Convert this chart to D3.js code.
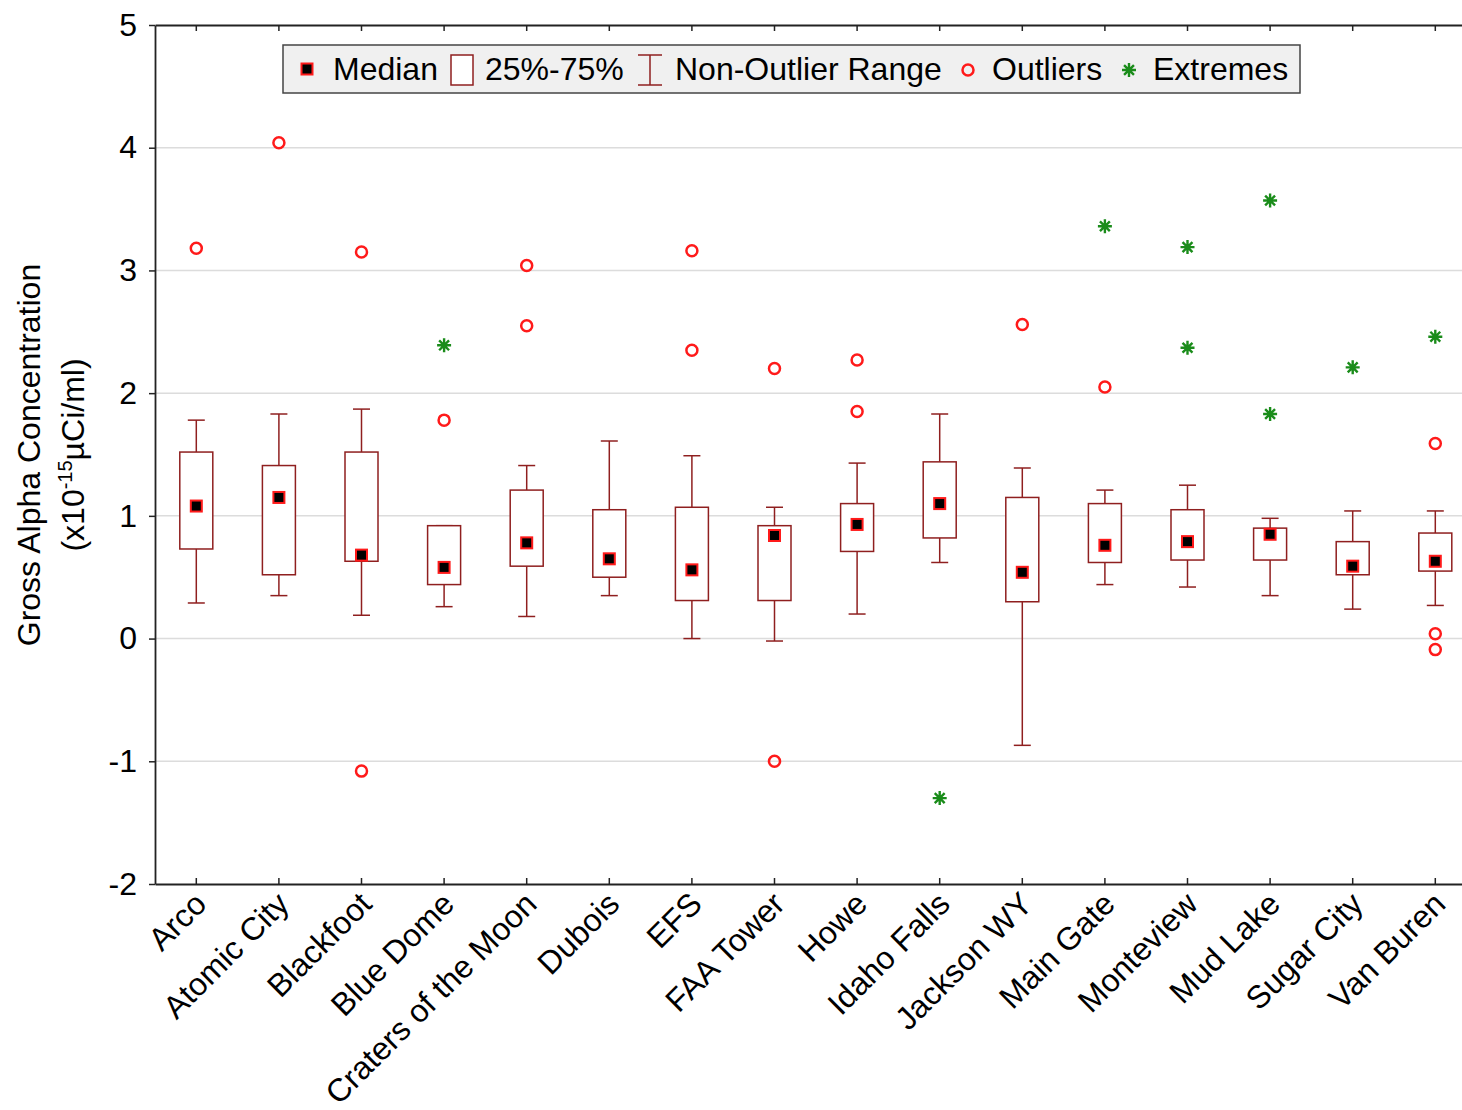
<!DOCTYPE html>
<html><head><meta charset="utf-8">
<script src="https://cdn.jsdelivr.net/npm/d3@7"></script>
<style>body{margin:0;background:#fff}svg{display:block;font-family:"Liberation Sans",Arial,sans-serif}</style>
</head><body><svg id="c" width="1462" height="1110"></svg>
<script>
const categories = ["Arco","Atomic City","Blackfoot","Blue Dome","Craters of the Moon","Dubois","EFS","FAA Tower","Howe","Idaho Falls","Jackson WY","Main Gate","Monteview","Mud Lake","Sugar City","Van Buren"];
const whiskerLow  = [0.29,0.35,0.19,0.26,0.18,0.35,0.00,-0.02,0.20,0.62,-0.87,0.44,0.42,0.35,0.24,0.27];
const q1          = [0.73,0.52,0.63,0.44,0.59,0.50,0.31,0.31,0.71,0.82,0.30,0.62,0.64,0.64,0.52,0.55];
const medians     = [1.08,1.15,0.68,0.58,0.78,0.65,0.56,0.84,0.93,1.10,0.54,0.76,0.79,0.85,0.59,0.63];
const q3          = [1.52,1.41,1.52,0.92,1.21,1.05,1.07,0.92,1.10,1.44,1.15,1.10,1.05,0.90,0.79,0.86];
const whiskerHigh = [1.78,1.83,1.87,0.92,1.41,1.61,1.49,1.07,1.43,1.83,1.39,1.21,1.25,0.98,1.04,1.04];
const outliers = [[3.18],[4.04],[3.15,-1.08],[1.78],[3.04,2.55],[],[3.16,2.35],[2.20,-1.00],[2.27,1.85],[],[2.56],[2.05],[],[],[],[1.59,0.04,-0.09]];
const extremes = [[],[],[],[2.39],[],[],[],[],[],[-1.30],[],[3.36],[3.19,2.37],[3.57,1.83],[2.21],[2.46]];
const yTicks = [-2,-1,0,1,2,3,4,5];
const legendLabels = ["Median","25%-75%","Non-Outlier Range","Outliers","Extremes"];

const svg = d3.select("#c");
const mLeft = 155, mTop = 25, mBottom = 884;
const x = d3.scaleBand().domain(categories).range([mLeft, mLeft + 16*82.6]).padding(0);
const y = d3.scaleLinear().domain([-2,5]).range([mBottom, mTop]);
const cx = c => x(c) + x.bandwidth()/2;
const boxColor = "#8f1f1f", red = "#ff1a1a", green = "#1a8c1a";
const FS = 32;

// 8-armed asterisk path
const star = (r) => {
  const d = r*Math.SQRT1_2;
  return `M${-r},0L${r},0M0,${-r}L0,${r}M${-d},${-d}L${d},${d}M${-d},${d}L${d},${-d}`;
};

// grid
svg.append("g").selectAll("line").data(yTicks.filter(t=>t>-2&&t<5)).join("line")
  .attr("x1", mLeft).attr("x2", 1462).attr("y1", d=>y(d)).attr("y2", d=>y(d))
  .attr("stroke", "#dcdcdc").attr("stroke-width", 1.5);

// axes
const yAxis = svg.append("g").attr("transform", `translate(${mLeft},0)`)
  .call(d3.axisLeft(y).tickValues(yTicks).tickFormat(d => String(d)).tickSize(6).tickSizeOuter(0).tickPadding(12));
yAxis.select(".domain").attr("stroke","#222").attr("stroke-width",1.8);
yAxis.selectAll("text").attr("font-size", FS).attr("fill","#000").attr("font-family","Liberation Sans, Arial");
yAxis.selectAll(".tick line").attr("stroke","#222").attr("stroke-width",1.5);

const xAxisB = svg.append("g").attr("transform", `translate(0,${mBottom})`)
  .call(d3.axisBottom(x).tickSize(-6).tickSizeOuter(0).tickPadding(10));
xAxisB.select(".domain").attr("stroke","#222").attr("stroke-width",1.8);
xAxisB.selectAll(".tick line").attr("stroke","#222").attr("stroke-width",1.5);
xAxisB.selectAll("text").attr("font-size", FS).attr("fill","#000").attr("font-family","Liberation Sans, Arial")
  .attr("text-anchor","end").attr("dy",0).attr("y",0)
  .attr("transform","translate(12,22) rotate(-45)");

const xAxisT = svg.append("g").attr("transform", `translate(0,${mTop})`)
  .call(d3.axisTop(x).tickSize(-6).tickSizeOuter(0).tickFormat(""));
xAxisT.select(".domain").attr("stroke","#222").attr("stroke-width",1.8);
xAxisT.selectAll(".tick line").attr("stroke","#222").attr("stroke-width",1.5);

// y label
const yl = svg.append("text").attr("transform","translate(40,455) rotate(-90)").attr("text-anchor","middle")
  .attr("font-size",32).attr("fill","#000");
yl.append("tspan").attr("x",0).attr("y",0).text("Gross Alpha Concentration");
const yl2 = svg.append("text").attr("transform","translate(84,455) rotate(-90)").attr("text-anchor","middle")
  .attr("font-size",32).attr("fill","#000");
yl2.append("tspan").text("(x10");
yl2.append("tspan").attr("font-size",20).attr("dy",-12).text("-15");
yl2.append("tspan").attr("dy",12).text("\u00B5Ci/ml)");

// boxes
const bw = 33, cw = 17;
const g = svg.append("g");
categories.forEach((c,i) => {
  const X = cx(c);
  g.append("line").attr("x1",X).attr("x2",X).attr("y1",y(whiskerHigh[i])).attr("y2",y(q3[i])).attr("stroke",boxColor).attr("stroke-width",1.5);
  g.append("line").attr("x1",X).attr("x2",X).attr("y1",y(q1[i])).attr("y2",y(whiskerLow[i])).attr("stroke",boxColor).attr("stroke-width",1.5);
  g.append("line").attr("x1",X-cw/2).attr("x2",X+cw/2).attr("y1",y(whiskerHigh[i])).attr("y2",y(whiskerHigh[i])).attr("stroke",boxColor).attr("stroke-width",1.5);
  g.append("line").attr("x1",X-cw/2).attr("x2",X+cw/2).attr("y1",y(whiskerLow[i])).attr("y2",y(whiskerLow[i])).attr("stroke",boxColor).attr("stroke-width",1.5);
  g.append("rect").attr("x",X-bw/2).attr("y",y(q3[i])).attr("width",bw).attr("height",y(q1[i])-y(q3[i]))
    .attr("fill","#fff").attr("stroke",boxColor).attr("stroke-width",1.5);
  g.append("rect").attr("x",X-6.5).attr("y",y(medians[i])-6.5).attr("width",13).attr("height",13).attr("fill",red);
  g.append("rect").attr("x",X-4.5).attr("y",y(medians[i])-4.5).attr("width",9).attr("height",9).attr("fill","#000");
  outliers[i].forEach(v => g.append("circle").attr("cx",X).attr("cy",y(v)).attr("r",5.5).attr("fill","none").attr("stroke",red).attr("stroke-width",2.5));
  extremes[i].forEach(v => g.append("path").attr("transform",`translate(${X},${y(v)})`)
    .attr("d", star(7)).attr("fill","none").attr("stroke",green).attr("stroke-width",2.4));
});

// legend
const lg = svg.append("g");
lg.append("rect").attr("x",283).attr("y",45).attr("width",1017).attr("height",48).attr("fill","#f0f0f0").attr("stroke","#444").attr("stroke-width",1.5);
const ly = 69;
lg.append("rect").attr("x",300.5).attr("y",ly-6.5).attr("width",13).attr("height",13).attr("fill",red);
lg.append("rect").attr("x",302.5).attr("y",ly-4.5).attr("width",9).attr("height",9).attr("fill","#000");
lg.append("rect").attr("x",451).attr("y",55).attr("width",22).attr("height",30).attr("fill","#fff").attr("stroke",boxColor).attr("stroke-width",1.5);
lg.append("line").attr("x1",650).attr("x2",650).attr("y1",55).attr("y2",85).attr("stroke",boxColor).attr("stroke-width",1.5);
lg.append("line").attr("x1",638).attr("x2",662).attr("y1",55).attr("y2",55).attr("stroke",boxColor).attr("stroke-width",1.5);
lg.append("line").attr("x1",638).attr("x2",662).attr("y1",85).attr("y2",85).attr("stroke",boxColor).attr("stroke-width",1.5);
lg.append("circle").attr("cx",968).attr("cy",ly+1).attr("r",5.5).attr("fill","none").attr("stroke",red).attr("stroke-width",2.5);
lg.append("path").attr("transform",`translate(1129,${ly+1})`).attr("d", star(7)).attr("fill","none").attr("stroke",green).attr("stroke-width",2.4);
const lx = [333,485,675,992,1153];
legendLabels.forEach((t,i)=> lg.append("text").attr("x",lx[i]).attr("y",ly+11).attr("font-size",FS).attr("fill","#000").text(t));
</script></body></html>
